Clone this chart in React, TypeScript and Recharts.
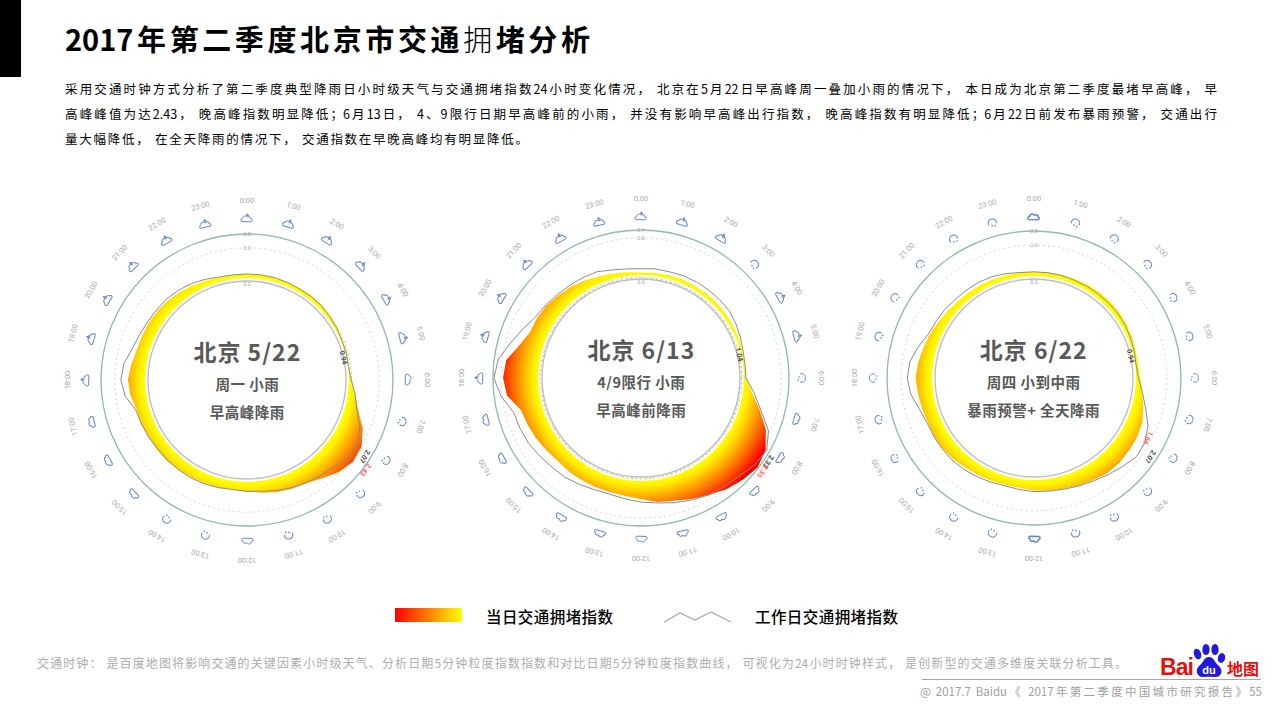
import React from 'react';
import { RadarChart, Radar, PolarAngleAxis, PolarRadiusAxis, PolarGrid } from 'recharts';

const times = ['0:00','0:30','1:00','1:30','2:00','2:30','3:00','3:30','4:00','4:30','5:00','5:30','6:00','6:30','7:00','7:30','8:00','8:30','9:00','9:30','10:00','10:30','11:00','11:30','12:00','12:30','13:00','13:30','14:00','14:30','15:00','15:30','16:00','16:30','17:00','17:30','18:00','18:30','19:00','19:30','20:00','20:30','21:00','21:30','22:00','22:30','23:00','23:30'];

const may22Today = [1.13,1.13,1.13,1.13,1.13,1.13,1.13,1.09,1.05,1.02,1.02,0.98,1.05,1.27,1.56,2.03,2.36,2.43,2.25,1.96,1.74,1.67,1.60,1.49,1.38,1.34,1.38,1.38,1.42,1.45,1.49,1.49,1.49,1.52,1.52,1.67,1.74,1.63,1.52,1.49,1.49,1.45,1.42,1.34,1.27,1.20,1.14,1.13];
const may22Workday = [1.13,1.13,1.13,1.11,1.09,1.09,1.09,1.05,1.02,0.98,0.98,0.96,1.05,1.27,1.49,1.89,2.14,2.14,1.92,1.81,1.71,1.63,1.52,1.42,1.38,1.34,1.38,1.42,1.45,1.45,1.45,1.45,1.49,1.52,1.56,1.92,2.07,1.98,1.74,1.63,1.56,1.52,1.51,1.45,1.38,1.27,1.16,1.13];
const jun13Today = [1.01,1.02,1.04,1.05,1.05,1.05,1.05,1.04,1.02,1.01,0.99,0.98,0.99,1.21,1.56,1.95,2.23,2.33,2.23,2.11,1.95,1.82,1.69,1.63,1.50,1.44,1.41,1.41,1.41,1.41,1.39,1.44,1.50,1.55,1.60,1.95,2.04,1.98,1.66,1.47,1.47,1.44,1.37,1.31,1.23,1.15,1.09,1.04];
const jun13Workday = [1.13,1.15,1.15,1.17,1.18,1.18,1.18,1.18,1.13,1.07,1.01,0.99,0.99,1.28,1.60,2.04,2.27,2.20,2.07,2.01,1.95,1.85,1.76,1.66,1.60,1.53,1.48,1.50,1.56,1.63,1.66,1.72,1.79,1.82,1.85,2.14,2.33,2.23,1.95,1.72,1.53,1.47,1.41,1.37,1.34,1.31,1.21,1.15];
const jun22Today = [1.13,1.14,1.16,1.18,1.20,1.20,1.20,1.20,1.16,1.13,1.09,1.09,1.13,1.27,1.45,1.63,1.71,1.74,1.78,1.76,1.67,1.60,1.52,1.47,1.42,1.34,1.33,1.36,1.40,1.43,1.51,1.56,1.56,1.54,1.58,1.63,1.69,1.62,1.52,1.45,1.34,1.27,1.22,1.20,1.18,1.16,1.14,1.13];
const jun22Workday = [1.13,1.13,1.13,1.11,1.11,1.11,1.11,1.11,1.09,1.05,1.02,0.98,1.05,1.27,1.56,1.92,2.14,2.18,2.00,1.85,1.71,1.62,1.54,1.49,1.47,1.42,1.38,1.43,1.49,1.54,1.58,1.58,1.58,1.58,1.71,1.96,2.07,2.00,1.76,1.51,1.45,1.42,1.36,1.34,1.33,1.29,1.22,1.14];

const hourLabels = ['0:00','1:00','2:00','3:00','4:00','5:00','6:00','7:00','8:00','9:00','10:00','11:00','12:00','13:00','14:00','15:00','16:00','17:00','18:00','19:00','20:00','21:00','22:00','23:00'];
const may22Weather = ['A','A','A','A','A','A','O','C','C','C','C','C','O','C','C','O','O','O','A','A','A','A','A','A'];
const jun13Weather = ['A','A','A','C','A','A','C','O','O','O','O','O','O','O','O','O','O','O','A','A','A','A','A','A'];
const jun22Weather = ['H','C','C','C','C','C','C','C','C','C','C','C','H','C','C','C','C','C','C','C','C','C','C','C'];

const SIZE = 420;
const MID = SIZE / 2;
const INNER = 99;
const AXIS_R = 173;
const LABEL_R = 180;
const ICON_R = 161;

type Ring = { value: number; label: string; dashed: boolean; color: string };

const clocks = [
  {
    id: 'may22', left: 247.3, top: 380, domain: [0.8, 2.5], outer: 146, base: 0.94,
    today: may22Today, workday: may22Workday, weather: may22Weather,
    title: '北京 5/22', line1: '周一 小雨', line2: '早高峰降雨',
    rings: [
      { value: 0.8, label: '0.0', dashed: false, color: '#bdbdbd' },
      { value: 2.0, label: '2.0', dashed: true, color: '#d4d4d4' },
      { value: 2.5, label: '2.5', dashed: false, color: '#e6e6e6' },
    ] as Ring[],
    dotted: 1.0,
    notes: [
      { at: 5.13, r: 98.5, text: '0.94', color: '#444' },
      { at: 8.2, r: 140, text: '2.07', color: '#333' },
      { at: 8.47, r: 148.5, text: '2.43', color: '#ff5a5a' },
    ],
  },
  {
    id: 'jun13', left: 641.3, top: 378.3, domain: [0.8, 2.36], outer: 148, base: 0.93,
    today: jun13Today, workday: jun13Workday, weather: jun13Weather,
    title: '北京 6/13', line1: '4/9限行 小雨', line2: '早高峰前降雨',
    rings: [
      { value: 0.8, label: '0.0', dashed: false, color: '#bdbdbd' },
      { value: 0.83, label: '', dashed: true, color: '#c4c4c4' },
      { value: 2.11, label: '2.0', dashed: true, color: '#d4d4d4' },
      { value: 2.36, label: '2.1', dashed: false, color: '#e6e6e6' },
    ] as Ring[],
    dotted: 0.86,
    notes: [
      { at: 5.1, r: 100.5, text: '1.04', color: '#444' },
      { at: 8.22, r: 152, text: '2.33', color: '#333' },
      { at: 8.5, r: 153, text: '2.35', color: '#ff5a5a' },
    ],
  },
  {
    id: 'jun22', left: 1033.7, top: 378.3, domain: [0.8, 2.5], outer: 147, base: 0.94,
    today: jun22Today, workday: jun22Workday, weather: jun22Weather,
    title: '北京 6/22', line1: '周四 小到中雨', line2: '暴雨预警+ 全天降雨',
    rings: [
      { value: 0.8, label: '0.0', dashed: false, color: '#bdbdbd' },
      { value: 2.0, label: '2.0', dashed: true, color: '#d4d4d4' },
      { value: 2.5, label: '2.5', dashed: false, color: '#e6e6e6' },
    ] as Ring[],
    dotted: 1.0,
    notes: [
      { at: 5.15, r: 98.7, text: '0.94', color: '#444' },
      { at: 8.27, r: 140, text: '2.07', color: '#333' },
      { at: 7.85, r: 128.6, text: '1.66', color: '#ff5a5a' },
    ],
  },
];

const BLUE = '#5f84dc';
const CLOUD = 'M-5,2.6 C-6.6,2.2 -6.4,-0.6 -4.4,-0.8 C-4.2,-3.2 -0.8,-3.8 0.4,-1.8 C2,-3 4.4,-1.8 4,0 C5.8,0.4 5.6,2.8 3.8,2.8 Z';

function WeatherIcon({ kind }: { kind: string }) {
  if (kind === 'C') {
    return (
      <g fill="none" stroke={BLUE} strokeWidth={1}>
        <path d="M-4,2 C-5.4,-1.6 -2,-4 0.6,-3.4 C3.6,-3 5,-0.4 3.6,2" />
        <circle cx={-1} cy={3} r={0.8} fill={BLUE} stroke="none" />
        <circle cx={2} cy={3.8} r={0.8} fill={BLUE} stroke="none" />
      </g>
    );
  }
  const heavy = kind === 'H';
  return (
    <g fill="none" stroke={BLUE} strokeWidth={heavy ? 1.5 : 1}>
      <path d={CLOUD} />
      {kind === 'A' && <path d="M0,-6 L2.6,-2.8 L-1,-3 Z" fill={BLUE} stroke="none" />}
    </g>
  );
}

function polar(r: number, hours: number) {
  const a = (hours / 24) * 2 * Math.PI;
  return { x: MID + r * Math.sin(a), y: MID - r * Math.cos(a), deg: hours * 15 };
}

function radiusOf(v: number, clock: any) {
  const [a, b] = clock.domain;
  return INNER + ((v - a) / (b - a)) * (clock.outer - INNER);
}

function ClockTick({ payload, clock }: any) {
  const value: string = payload.value;
  if (!value.endsWith(':00')) return <g />;
  const idx = hourLabels.indexOf(value);
  const deg = 90 - payload.coordinate;
  const hours = deg / 15;
  const lab = polar(LABEL_R, hours);
  const ico = polar(ICON_R, hours);
  const brk1 = polar(AXIS_R - 1.5, hours);
  const brk2 = polar(AXIS_R + 1.5, hours);
  return (
    <g>
      <line x1={brk1.x} y1={brk1.y} x2={brk2.x} y2={brk2.y} stroke="#fff" strokeWidth={1.4} />
      <text x={lab.x} y={lab.y} textAnchor="middle" dominantBaseline="central" fontSize={7.5} fill="#a8a8a8"
        fontFamily="Roboto, sans-serif" transform={`rotate(${deg} ${lab.x} ${lab.y})`}>{value}</text>
      <g transform={`translate(${ico.x} ${ico.y}) rotate(${deg})`}>
        <WeatherIcon kind={clock.weather[idx]} />
      </g>
      {idx === 0 && clock.rings.filter((r: Ring) => r.label).map((r: Ring, i: number) => (
        <text key={i} x={MID} y={MID - radiusOf(r.value, clock) + (r.value === clock.domain[0] ? 3.4 : 0)} textAnchor="middle" dominantBaseline="central"
          fontSize={5.5} fill="#a6a6a6" fontFamily="Roboto, sans-serif">{r.label}</text>
      ))}
      {idx === 0 && clock.notes.map((n: any, i: number) => {
        const p = polar(n.r, n.at);
        return (
          <text key={`n${i}`} x={p.x} y={p.y} textAnchor="middle" dominantBaseline="central" fontSize={7} fontWeight={600}
            fill={n.color} fontFamily="Roboto, sans-serif" transform={`rotate(${n.at * 15} ${p.x} ${p.y})`}>{n.text}</text>
        );
      })}
    </g>
  );
}

function Clock({ clock }: { clock: any }) {
  const data = times.map((time, i) => ({
    time,
    today: [clock.base, clock.today[i]],
    workday: clock.workday[i],
  }));
  const gid = `heat-${clock.id}`;
  return (
    <div style={{ position: 'absolute', left: clock.left - MID, top: clock.top - MID, width: SIZE, height: SIZE }}>
      <RadarChart width={SIZE} height={SIZE} data={data} cx={MID} cy={MID} innerRadius={INNER} outerRadius={clock.outer}
        startAngle={90} endAngle={-270} margin={{ top: 0, right: 0, bottom: 0, left: 0 }}>
        <defs>
          <radialGradient id={gid} gradientUnits="userSpaceOnUse" cx={MID} cy={MID} r={148}>
            <stop offset="0.69" stopColor="#ffff00" />
            <stop offset="0.73" stopColor="#ffee00" />
            <stop offset="0.78" stopColor="#ffbf00" />
            <stop offset="0.845" stopColor="#ff8000" />
            <stop offset="0.92" stopColor="#ff3000" />
            <stop offset="0.96" stopColor="#ff0000" />
          </radialGradient>
        </defs>
        {clock.rings.map((r: Ring, i: number) => (
          <PolarGrid key={i} gridType="circle" radialLines={false} polarRadius={[radiusOf(r.value, clock)]}
            stroke={r.color} strokeWidth={r.value === clock.domain[0] ? 1.3 : 1} strokeDasharray={r.dashed ? '2 3' : undefined} />
        ))}
        <PolarRadiusAxis type="number" domain={clock.domain} allowDataOverflow tick={false} axisLine={false} tickLine={false} />
        <PolarAngleAxis dataKey="time" radius={AXIS_R} axisLineType="circle" tickLine={false}
          axisLine={{ stroke: '#8fbcb4', strokeWidth: 1.3 }}
          tick={(p: any) => <ClockTick {...p} clock={clock} />} />
        <Radar dataKey="today" stroke="none" fill={`url(#${gid})`} fillOpacity={1} dot={false} isAnimationActive={false} />
        <PolarGrid gridType="circle" radialLines={false} polarRadius={[radiusOf(clock.dotted, clock)]} stroke="#b8c850" strokeDasharray="1.5 3" />
        <Radar dataKey="workday" stroke="#8c8c8c" strokeWidth={1} fill="none" fillOpacity={0} dot={false} isAnimationActive={false} />
      </RadarChart>
      <div style={{ position: 'absolute', left: 0, width: SIZE, top: MID - 44, textAlign: 'center', fontFamily: '"Noto Sans CJK SC"', fontWeight: 700, color: '#595959', pointerEvents: 'none' }}>
        <div style={{ fontSize: 23, lineHeight: '30px', letterSpacing: 1 }}>{clock.title}</div>
        <div style={{ fontSize: 14.5, lineHeight: '28px', marginTop: 4, letterSpacing: 0.5 }}>{clock.line1}</div>
        <div style={{ fontSize: 14.5, lineHeight: '28px', letterSpacing: 0.5 }}>{clock.line2}</div>
      </div>
    </div>
  );
}

function Line({ left, width, center, lh = 24, style, children }: any) {
  return (
    <div style={{ position: 'absolute', left, width, top: center - lh / 2, lineHeight: `${lh}px`, height: lh, textAlign: 'justify', textAlignLast: 'justify', whiteSpace: 'nowrap', overflow: 'visible', ...style }}>
      {children}
    </div>
  );
}

const CJK = '"Noto Sans CJK SC", sans-serif';
const bodyLines = [
  '采用交通时钟方式分析了第二季度典型降雨日小时级天气与交通拥堵指数24小时变化情况， 北京在5月22日早高峰周一叠加小雨的情况下， 本日成为北京第二季度最堵早高峰， 早',
  '高峰峰值为达2.43， 晚高峰指数明显降低；6月13日， 4、9限行日期早高峰前的小雨， 并没有影响早高峰出行指数， 晚高峰指数有明显降低；6月22日前发布暴雨预警， 交通出行',
  '量大幅降低， 在全天降雨的情况下， 交通指数在早晚高峰均有明显降低。',
];

export default function App() {
  return (
    <div style={{ position: 'absolute', left: 0, top: 0, width: 1279, height: 720, background: '#fff', overflow: 'hidden', fontFamily: CJK }}>
      <div style={{ position: 'absolute', left: 0, top: 0, width: 21, height: 77, background: '#000' }} />
      <Line left={65} width={525} center={38} lh={40} style={{ fontSize: 29, fontWeight: 700, color: '#000' }}>
        2017年第二季度北京市交通<span style={{ fontWeight: 300 }}>拥</span>堵分析
      </Line>
      {bodyLines.map((t, i) => (
        <Line key={i} left={65} width={i === 2 ? 463 : 1152} center={89 + i * 25} style={{ fontSize: 12.5, color: '#000' }}>{t}</Line>
      ))}
      {clocks.map((c) => <Clock key={c.id} clock={c} />)}
      <svg width={1279} height={720} style={{ position: 'absolute', left: 0, top: 0, pointerEvents: 'none' }}>
        <defs>
          <linearGradient id="legendHeat" x1="0" x2="1" y1="0" y2="0">
            <stop offset="0" stopColor="#ff0000" />
            <stop offset="1" stopColor="#ffff00" />
          </linearGradient>
        </defs>
        <rect x={395} y={608} width={67} height={14} fill="url(#legendHeat)" />
        <polyline points="664,622 680,613 695,620 711,612 731,622" fill="none" stroke="#aaaaaa" strokeWidth={1.2} />
        <line x1={922} y1={679.5} x2={1261} y2={679.5} stroke="#a6a6a6" strokeWidth={1} />
        <text x={1160} y={675} fontSize={23} fontWeight={700} fill="#e60f0f" fontFamily="Liberation Sans" textLength={34}>Bai</text>
        <ellipse cx={1197.5} cy={654} rx={3.6} ry={5.5} fill="#2319dc" transform="rotate(-18 1197.5 654)" />
        <ellipse cx={1206} cy={649.5} rx={3.6} ry={5.5} fill="#2319dc" />
        <ellipse cx={1215} cy={649.5} rx={3.6} ry={5.5} fill="#2319dc" />
        <ellipse cx={1221.5} cy={658} rx={3.6} ry={5} fill="#2319dc" transform="rotate(15 1221.5 658)" />
        <path d="M1209,657 C1204,657 1204,662 1199,666 C1194,671 1198,678 1204,677 C1207,676.5 1211,676.5 1214,677 C1221,678 1224,671 1219,666 C1214,662 1214,657 1209,657 Z" fill="#2319dc" />
        <text x={1209} y={674} fontSize={11} fontWeight={700} textAnchor="middle" fill="#fff" fontFamily="Liberation Sans">du</text>
        <text x={1227} y={675} fontSize={16} fontWeight={700} fill="#e60f0f" fontFamily={CJK}>地图</text>
      </svg>
      <Line left={486} width={127} center={616} style={{ fontSize: 15.5, fontWeight: 500, color: '#000' }}>当日交通拥堵指数</Line>
      <Line left={755} width={143} center={616} style={{ fontSize: 15.5, fontWeight: 500, color: '#000' }}>工作日交通拥堵指数</Line>
      <Line left={37} width={1090} center={663} style={{ fontSize: 12, color: '#adadad' }}>交通时钟： 是百度地图将影响交通的关键因素小时级天气、分析日期5分钟粒度指数指数和对比日期5分钟粒度指数曲线， 可视化为24小时时钟样式， 是创新型的交通多维度关联分析工具。</Line>
      <Line left={920} width={342} center={691} style={{ fontSize: 11.5, color: '#a0a0a0' }}>@ 2017.7 Baidu《 2017年第二季度中国城市研究报告》55</Line>
    </div>
  );
}
